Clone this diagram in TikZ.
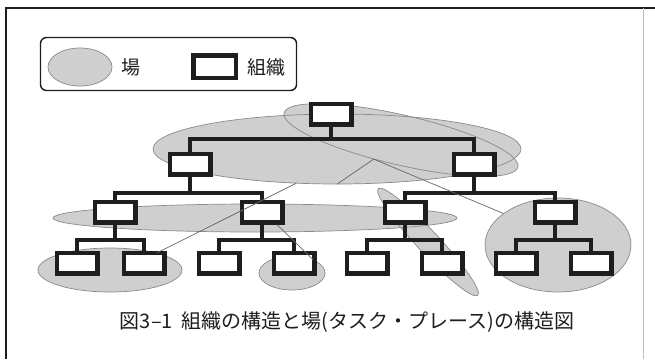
\documentclass[tikz,border=0pt]{standalone}
\usepackage{fontspec}
\setmainfont{Noto Sans CJK JP}
\usetikzlibrary{shapes.geometric}
\definecolor{placefill}{HTML}{CFCFCF}
\definecolor{placeedge}{HTML}{8A8A8A}
\definecolor{ink}{HTML}{1E1E1E}
\definecolor{linkgray}{HTML}{666666}
\begin{document}
\begin{tikzpicture}[x=1pt,y=-1pt,
  place/.style={ellipse, inner sep=0pt, fill=placefill, draw=none},
  placeline/.style={ellipse, inner sep=0pt, draw=placeedge, line width=0.7pt},
  org/.style={draw=ink, fill=white, line width=4.5pt, minimum width=40.5pt, minimum height=20.5pt, inner sep=0pt},
  bar/.style={draw=ink, line width=4pt},
  link/.style={draw=linkgray, line width=0.7pt},
  lbl/.style={font=\fontsize{19}{21}\selectfont, inner sep=0pt, text=ink},
]
\useasboundingbox (0,0) rectangle (655,359);
% outer frame
\draw[ink, line width=1.4pt] (6,359) -- (6,8) -- (655,8);
\draw[black!25, line width=0.8pt] (643,8) -- (643,359);

% places (ba): fills, then outlines
\foreach \n/\x/\y/\w/\h/\r in {A/401/140/240/50/-13, B/337/149/368/70/0, C/255/218/404/28/0,
  D/292/273/66/34/0, E/428/242/146/22/-47, F/110/270/144/44/0, G/558/245/146/94/0, L/80/67/64/38/0}{
  \node[place, minimum width=\w pt, minimum height=\h pt, rotate=\r] (\n) at (\x,\y) {};
}
\foreach \n/\x/\y/\w/\h/\r in {A/401/140/240/50/-13, B/337/149/368/70/0, C/255/218/404/28/0,
  D/292/273/66/34/0, E/428/242/146/22/-47, F/110/270/144/44/0, G/558/245/146/94/0, L/80/67/64/38/0}{
  \node[placeline, minimum width=\w pt, minimum height=\h pt, rotate=\r] (\n-o) at (\x,\y) {};
}

% organisation boxes
\node[org] (r) at (331,114) {};
\node[org] (a) at (190,164) {};
\node[org] (b) at (474,164) {};
\node[org] (aa) at (115,212) {};
\node[org] (ab) at (262,212) {};
\node[org] (ba) at (405,212) {};
\node[org] (bb) at (555,212) {};
\node[org] (aaa) at (77,263) {};
\node[org] (aab) at (144,263) {};
\node[org] (aba) at (219,263) {};
\node[org] (abb) at (294,263) {};
\node[org] (baa) at (367,263) {};
\node[org] (bab) at (442,263) {};
\node[org] (bba) at (516,263) {};
\node[org] (bbb) at (591,263) {};

\foreach \p/\c/\d/\Y in {r/a/b/139, a/aa/ab/193, b/ba/bb/193, aa/aaa/aab/240,
  ab/aba/abb/240, ba/baa/bab/240, bb/bba/bbb/240}{
  \draw[bar] (\p.south) -- (\p.south |- 0,\Y);
  \draw[bar, line join=miter] (\c.north) |- (\d.north |- 0,\Y) -- (\d.north);
}

% links between places
\draw[link] (A.-132) -- (B.south);
\draw[link] (A.-132) -- (G.150);
\draw[link] (B.-140) -- (F.20);
\draw[link] (ab.-40) -- (D.32);

% legend
\node[draw=ink, line width=1.4pt, rounded corners=6pt, minimum width=256pt, minimum height=53pt] (legend) at (168.5,64) {};
\node[lbl] (tplace) at (131,67) {場};
\node[org, minimum width=42.5pt, minimum height=22.5pt] (lorg) at (214.5,66.5) {};
\node[lbl] (torg) at (266,67) {組織};

% caption
\node[lbl, font=\fontsize{20}{22}\selectfont] (cap) at (347,322) {図3–1\hspace{0.45em}組織の構造と場(タスク・プレース)の構造図};
\end{tikzpicture}
\end{document}
